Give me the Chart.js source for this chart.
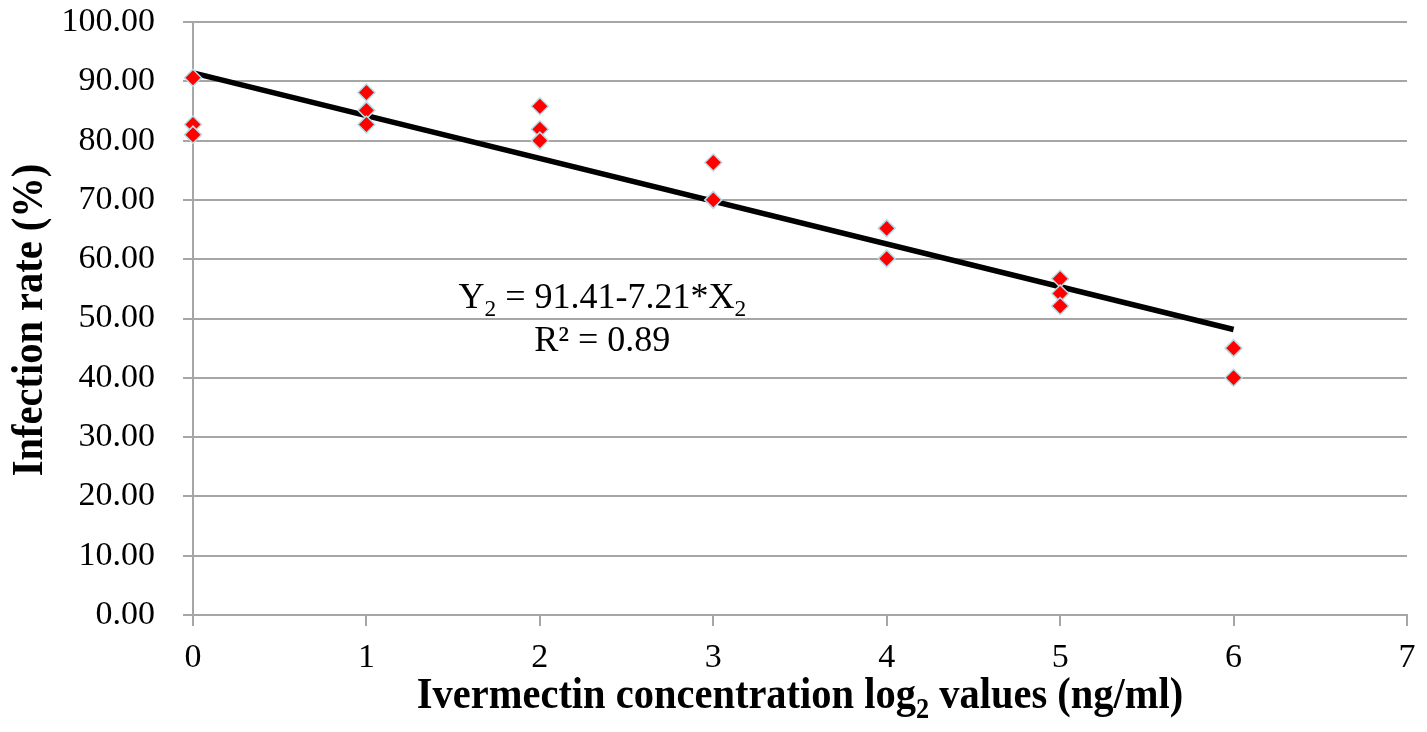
<!DOCTYPE html>
<html>
<head>
<meta charset="utf-8">
<script src="https://cdn.jsdelivr.net/npm/chart.js@4/dist/chart.umd.min.js"></script>
<style>
  html, body { margin: 0; padding: 0; background: #fff; }
  #wrap { width: 1427px; height: 732px; position: relative; }
</style>
</head>
<body>
<div id="wrap"><canvas id="chart"></canvas></div>
<script>
  // Data
  const doseX = [0, 0, 0, 1, 1, 1, 2, 2, 2, 3, 3, 4, 4, 5, 5, 5, 6, 6];
  const infectionY = [90.6, 82.7, 81.0, 88.1, 85.1, 82.7, 85.8, 81.9, 80.0, 76.3, 70.0, 65.2, 60.1, 56.7, 54.2, 52.1, 45.0, 40.0];
  const trendX = [0, 6];
  const trendY = [91.41, 48.15];
  const xTicks = [0, 1, 2, 3, 4, 5, 6, 7];
  const yTicks = [0, 10, 20, 30, 40, 50, 60, 70, 80, 90, 100];

  const SERIF = "'Liberation Serif', 'Times New Roman', serif";
  const GRID = "#a6a6a6";

  // text pieces, sub = subscript
  const xTitle = [
    { t: "Ivermectin concentration log" },
    { t: "2", sub: true },
    { t: " values (ng/ml)" }
  ];
  const yTitle = [{ t: "Infection rate (%)" }];
  const eqLine1 = [
    { t: "Y" }, { t: "2", sub: true }, { t: " = 91.41-7.21*X" }, { t: "2", sub: true }
  ];
  const eqLine2 = [{ t: "R\u00b2 = 0.89" }];
  const eqPos = { x: 2.36, y1: 53.3, y2: 46.1 };

  // draws centred text made of pieces; squeeze < 1 narrows the glyphs
  function drawRich(ctx, parts, cx, cy, size, bold, squeeze) {
    const w = bold ? "bold " : "";
    squeeze = squeeze || 1;
    let total = 0;
    parts.forEach(function (p) {
      ctx.font = w + (p.sub ? size * 0.65 : size) + "px " + SERIF;
      p.w = ctx.measureText(p.t).width;
      total += p.w;
    });
    ctx.save();
    ctx.translate(cx, cy);
    ctx.scale(squeeze, 1);
    let x = -total / 2;
    ctx.textAlign = "left";
    ctx.textBaseline = "middle";
    parts.forEach(function (p) {
      ctx.font = w + (p.sub ? size * 0.65 : size) + "px " + SERIF;
      ctx.fillText(p.t, x, p.sub ? size * 0.3 : 0);
      x += p.w;
    });
    ctx.restore();
  }

  const textLayer = {
    id: "textLayer",
    afterDraw: function (chart) {
      const ctx = chart.ctx;
      const area = chart.chartArea;
      const xs = chart.scales.x;
      const ys = chart.scales.y;
      ctx.save();
      ctx.fillStyle = "#000";

      // x axis title
      drawRich(ctx, xTitle, (area.left + area.right) / 2, 697, 44, true, 0.92);

      // y axis title
      ctx.save();
      ctx.translate(31, 320);
      ctx.rotate(-Math.PI / 2);
      drawRich(ctx, yTitle, 0, 0, 44, true, 0.92);
      ctx.restore();

      // trendline equation
      drawRich(ctx, eqLine1, xs.getPixelForValue(eqPos.x), ys.getPixelForValue(eqPos.y1), 36, false);
      drawRich(ctx, eqLine2, xs.getPixelForValue(eqPos.x), ys.getPixelForValue(eqPos.y2), 36, false);
      ctx.restore();
    }
  };

  new Chart(document.getElementById("chart"), {
    type: "scatter",
    data: {
      datasets: [
        {
          label: "Infection rate",
          data: doseX.map(function (x, i) { return { x: x, y: infectionY[i] }; }),
          pointStyle: "rectRot",
          pointRadius: 8.5,
          pointHoverRadius: 8.5,
          backgroundColor: "#ff0000",
          borderColor: "#b6dde8",
          borderWidth: 1.5,
          clip: false,
          order: 1
        },
        {
          label: "Trend",
          type: "line",
          data: trendX.map(function (x, i) { return { x: x, y: trendY[i] }; }),
          borderColor: "#000",
          borderWidth: 5.5,
          pointRadius: 0,
          fill: false,
          clip: false,
          order: 2
        }
      ]
    },
    options: {
      responsive: true,
      maintainAspectRatio: false,
      animation: false,
      layout: { padding: { top: 22, right: 20, left: 0, bottom: 0 } },
      plugins: {
        legend: { display: false },
        tooltip: { enabled: false }
      },
      scales: {
        x: {
          type: "linear",
          min: 0,
          max: 7,
          afterBuildTicks: function (scale) {
            scale.ticks = xTicks.map(function (v) { return { value: v }; });
          },
          afterFit: function (scale) {
            scale.height = 117;
            scale.paddingLeft = 0;
            scale.paddingRight = 0;
          },
          grid: { drawOnChartArea: false, drawTicks: true, tickLength: 11, color: GRID, lineWidth: 2 },
          border: { display: true, color: GRID, width: 2 },
          ticks: {
            color: "#000",
            padding: 12,
            font: { family: SERIF, size: 34 }
          }
        },
        y: {
          type: "linear",
          min: 0,
          max: 100,
          afterBuildTicks: function (scale) {
            scale.ticks = yTicks.map(function (v) { return { value: v }; });
          },
          afterFit: function (scale) {
            scale.width = 193;
            scale.paddingTop = 0;
            scale.paddingBottom = 0;
          },
          grid: { drawOnChartArea: true, drawTicks: true, tickLength: 10, color: GRID, lineWidth: 2 },
          border: { display: true, color: GRID, width: 2 },
          ticks: {
            color: "#000",
            padding: 28,
            font: { family: SERIF, size: 34 },
            callback: function (v) { return Number(v).toFixed(2); }
          }
        }
      }
    },
    plugins: [textLayer]
  });
</script>
</body>
</html>
